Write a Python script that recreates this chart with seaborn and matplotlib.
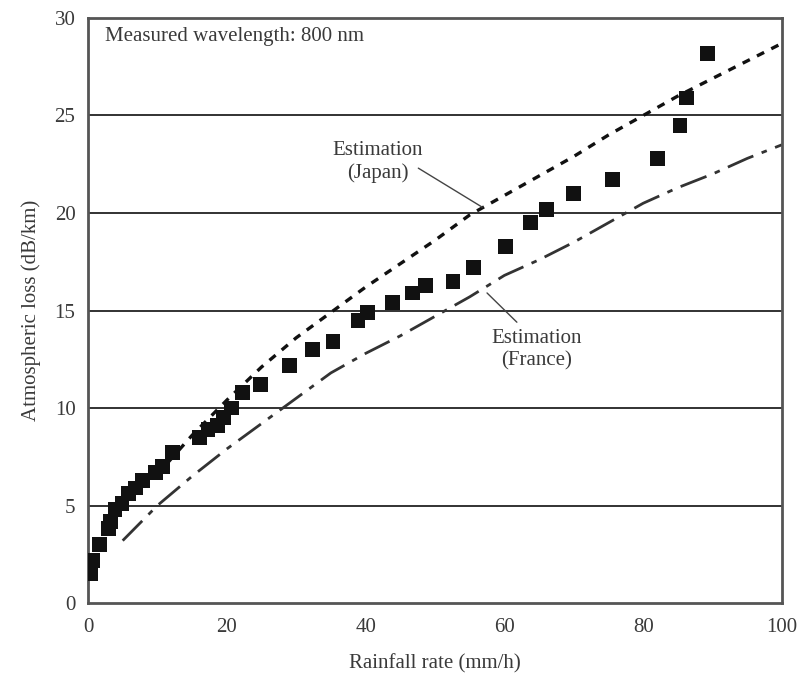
import matplotlib
matplotlib.use("Agg")
import matplotlib.pyplot as plt
import seaborn as sns
import pandas as pd

# Measured attenuation at 800 nm
rain_measured = [0.3, 0.7, 1.7, 2.9, 3.3, 3.9, 4.9, 5.8, 6.8, 7.9, 9.7, 10.8, 12.2,
                 16.1, 17.3, 18.6, 19.5, 20.7, 22.3, 24.8, 29.1, 32.3, 35.3, 38.9,
                 40.3, 43.9, 46.8, 48.6, 52.6, 55.5, 60.1, 63.7, 66.1, 69.9, 75.6,
                 82.1, 85.3, 86.3, 89.3]
loss_measured = [1.5, 2.2, 3.0, 3.8, 4.2, 4.8, 5.1, 5.6, 5.9, 6.3, 6.7, 7.0, 7.7,
                 8.5, 8.9, 9.1, 9.5, 10.0, 10.8, 11.2, 12.2, 13.0, 13.4, 14.5,
                 14.9, 15.4, 15.9, 16.3, 16.5, 17.2, 18.3, 19.5, 20.2, 21.0, 21.7,
                 22.8, 24.5, 25.9, 28.2]

# Estimation curves
rain_japan = [10, 15, 20, 25, 30, 35, 40, 45, 50, 55, 60, 65, 70, 75, 80, 85, 90, 95, 100]
loss_japan = [6.6, 8.6, 10.4, 12.1, 13.6, 14.9, 16.2, 17.4, 18.6, 19.9, 20.9, 21.9,
              22.9, 24.0, 25.0, 26.0, 26.9, 27.8, 28.7]

rain_france = [5, 10, 15, 20, 25, 30, 35, 40, 45, 50, 55, 60, 65, 70, 75, 80, 85, 90, 95, 100]
loss_france = [3.2, 5.0, 6.5, 7.9, 9.2, 10.5, 11.8, 12.8, 13.7, 14.7, 15.7, 16.8,
               17.6, 18.5, 19.5, 20.5, 21.3, 22.0, 22.8, 23.5]

x_ticks = [0, 20, 40, 60, 80, 100]
y_ticks = [0, 5, 10, 15, 20, 25, 30]

sns.set_theme(style="white")
plt.rcParams["font.family"] = ["Liberation Serif", "DejaVu Serif"]
text_color = "#3a3a3a"

fig = plt.figure(figsize=(8.05, 6.79), dpi=100)
ax = fig.add_axes([0.1093, 0.1119, 0.8621, 0.8616])

df_meas = pd.DataFrame({"rain": rain_measured, "loss": loss_measured})
df_jp = pd.DataFrame({"rain": rain_japan, "loss": loss_japan})
df_fr = pd.DataFrame({"rain": rain_france, "loss": loss_france})

for yv in [5, 10, 15, 20, 25]:
    ax.axhline(yv, color="#222222", lw=1.3, zorder=1)

sns.lineplot(data=df_jp, x="rain", y="loss", ax=ax, color="#111111", lw=2.4,
             linestyle=(0, (2.4, 2.4)), zorder=2)
sns.lineplot(data=df_fr, x="rain", y="loss", ax=ax, color="#333333", lw=2.0,
             linestyle=(0, (10, 3.2, 2.0, 3.2)), zorder=2)
sns.scatterplot(data=df_meas, x="rain", y="loss", ax=ax, marker="s", s=115,
                color="#111111", edgecolor="none", linewidth=0, zorder=3)

ax.set_xlim(0, 100)
ax.set_ylim(0, 30)
ax.set_xticks(x_ticks)
ax.set_yticks(y_ticks)
ax.tick_params(axis="both", direction="in", length=4, width=1.5, colors="#333333",
               labelsize=15, labelcolor=text_color)
ax.tick_params(axis="x", pad=11)
ax.tick_params(axis="y", pad=9, length=0)

for sp in ax.spines.values():
    sp.set_color("#555555")
    sp.set_linewidth(2.0)

ax.set_xlabel("Rainfall rate (mm/h)", fontsize=15, color=text_color, labelpad=12)
ax.set_ylabel("Atmospheric loss (dB/km)", fontsize=15, color=text_color, labelpad=10)

ax.text(0.024, 0.969, "Measured wavelength: 800 nm", transform=ax.transAxes,
        fontsize=15, color=text_color, ha="left", va="center")

ax.text(41.8, 22.6, "Estimation\n(Japan)", fontsize=15, color=text_color,
        ha="center", va="center", linespacing=1.2)
ax.plot([47.6, 56.8], [22.3, 20.3], color="#444444", lw=1.0, zorder=4)

ax.text(64.7, 13.0, "Estimation\n(France)", fontsize=15, color=text_color,
        ha="center", va="center", linespacing=1.2)
ax.plot([61.8, 57.5], [14.4, 15.9], color="#444444", lw=1.0, zorder=4)

fig.savefig("out.png", dpi=100)
